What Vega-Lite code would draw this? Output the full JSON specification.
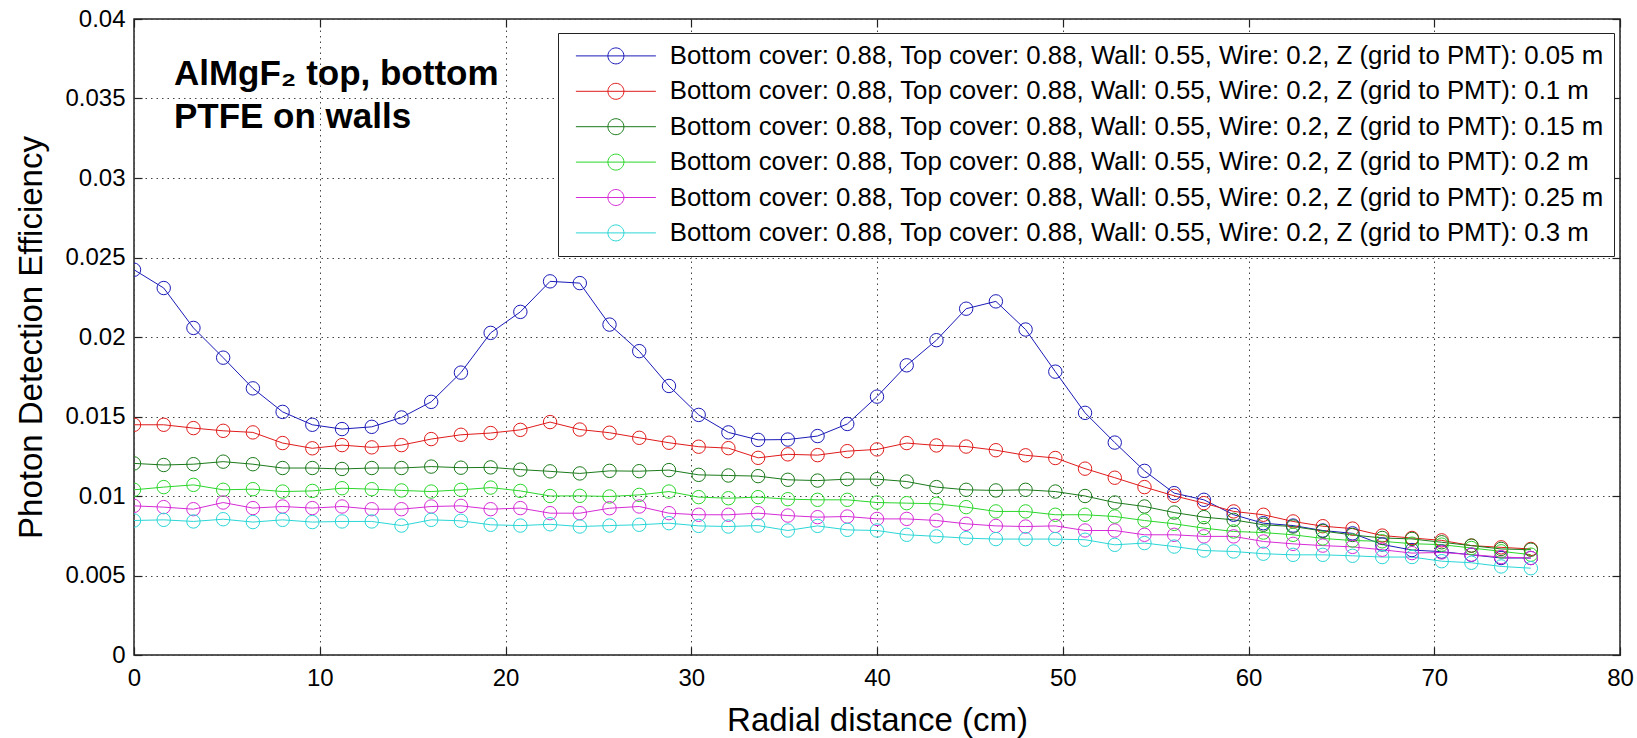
{
  "$schema": "https://vega.github.io/schema/vega-lite/v6.json",
  "width": 1486,
  "height": 636,
  "autosize": {"type": "none"},
  "padding": {"left": 134, "top": 19, "right": 17, "bottom": 83},
  "background": "white",
  "config": {
    "font": "Liberation Sans",
    "view": {"stroke": "#222222", "strokeWidth": 1.5},
    "axis": {"labelFont": "Liberation Sans", "titleFont": "Liberation Sans"},
    "legend": {"labelFont": "Liberation Sans"}
  },
  "datasets": {
    "pde": [
      {"z":"0.05","r":0,"p":0.02423},{"z":"0.05","r":1.6,"p":0.02308},{"z":"0.05","r":3.2,"p":0.02057},{"z":"0.05","r":4.8,"p":0.0187},{"z":"0.05","r":6.4,"p":0.01677},{"z":"0.05","r":8,"p":0.01529},{"z":"0.05","r":9.6,"p":0.01448},{"z":"0.05","r":11.2,"p":0.01421},{"z":"0.05","r":12.8,"p":0.01435},{"z":"0.05","r":14.4,"p":0.01494},
      {"z":"0.05","r":16,"p":0.01592},{"z":"0.05","r":17.6,"p":0.01776},{"z":"0.05","r":19.2,"p":0.02026},{"z":"0.05","r":20.8,"p":0.02158},{"z":"0.05","r":22.4,"p":0.0235},{"z":"0.05","r":24,"p":0.02339},{"z":"0.05","r":25.6,"p":0.02078},{"z":"0.05","r":27.2,"p":0.01911},{"z":"0.05","r":28.8,"p":0.01692},{"z":"0.05","r":30.4,"p":0.0151},
      {"z":"0.05","r":32,"p":0.014},{"z":"0.05","r":33.6,"p":0.01353},{"z":"0.05","r":35.2,"p":0.01355},{"z":"0.05","r":36.8,"p":0.01377},{"z":"0.05","r":38.4,"p":0.01453},{"z":"0.05","r":40,"p":0.01625},{"z":"0.05","r":41.6,"p":0.01822},{"z":"0.05","r":43.2,"p":0.0198},{"z":"0.05","r":44.8,"p":0.02178},{"z":"0.05","r":46.4,"p":0.02224},
      {"z":"0.05","r":48,"p":0.02047},{"z":"0.05","r":49.6,"p":0.01782},{"z":"0.05","r":51.2,"p":0.01523},{"z":"0.05","r":52.8,"p":0.01336},{"z":"0.05","r":54.4,"p":0.01158},{"z":"0.05","r":56,"p":0.01018},{"z":"0.05","r":57.6,"p":0.00976},{"z":"0.05","r":59.2,"p":0.00882},{"z":"0.05","r":60.8,"p":0.00829},{"z":"0.05","r":62.4,"p":0.00814},
      {"z":"0.05","r":64,"p":0.00783},{"z":"0.05","r":65.6,"p":0.00765},{"z":"0.05","r":67.2,"p":0.00695},{"z":"0.05","r":68.8,"p":0.0066},{"z":"0.05","r":70.4,"p":0.0065},{"z":"0.05","r":72,"p":0.0063},{"z":"0.05","r":73.6,"p":0.0061},{"z":"0.05","r":75.2,"p":0.0061},

      {"z":"0.1","r":0,"p":0.01448},{"z":"0.1","r":1.6,"p":0.01448},{"z":"0.1","r":3.2,"p":0.01427},{"z":"0.1","r":4.8,"p":0.0141},{"z":"0.1","r":6.4,"p":0.014},{"z":"0.1","r":8,"p":0.01333},{"z":"0.1","r":9.6,"p":0.013},{"z":"0.1","r":11.2,"p":0.0132},{"z":"0.1","r":12.8,"p":0.01306},{"z":"0.1","r":14.4,"p":0.0132},
      {"z":"0.1","r":16,"p":0.01358},{"z":"0.1","r":17.6,"p":0.01385},{"z":"0.1","r":19.2,"p":0.01396},{"z":"0.1","r":20.8,"p":0.01416},{"z":"0.1","r":22.4,"p":0.01465},{"z":"0.1","r":24,"p":0.01418},{"z":"0.1","r":25.6,"p":0.01398},{"z":"0.1","r":27.2,"p":0.01366},{"z":"0.1","r":28.8,"p":0.01335},{"z":"0.1","r":30.4,"p":0.0131},
      {"z":"0.1","r":32,"p":0.01301},{"z":"0.1","r":33.6,"p":0.0124},{"z":"0.1","r":35.2,"p":0.01262},{"z":"0.1","r":36.8,"p":0.01257},{"z":"0.1","r":38.4,"p":0.01282},{"z":"0.1","r":40,"p":0.01293},{"z":"0.1","r":41.6,"p":0.01333},{"z":"0.1","r":43.2,"p":0.01318},{"z":"0.1","r":44.8,"p":0.01311},{"z":"0.1","r":46.4,"p":0.01288},
      {"z":"0.1","r":48,"p":0.01256},{"z":"0.1","r":49.6,"p":0.01239},{"z":"0.1","r":51.2,"p":0.01172},{"z":"0.1","r":52.8,"p":0.01115},{"z":"0.1","r":54.4,"p":0.01056},{"z":"0.1","r":56,"p":0.01001},{"z":"0.1","r":57.6,"p":0.00955},{"z":"0.1","r":59.2,"p":0.00903},{"z":"0.1","r":60.8,"p":0.00882},{"z":"0.1","r":62.4,"p":0.0084},
      {"z":"0.1","r":64,"p":0.0081},{"z":"0.1","r":65.6,"p":0.00795},{"z":"0.1","r":67.2,"p":0.00751},{"z":"0.1","r":68.8,"p":0.00736},{"z":"0.1","r":70.4,"p":0.00721},{"z":"0.1","r":72,"p":0.00688},{"z":"0.1","r":73.6,"p":0.00677},{"z":"0.1","r":75.2,"p":0.00667},

      {"z":"0.15","r":0,"p":0.01205},{"z":"0.15","r":1.6,"p":0.01195},{"z":"0.15","r":3.2,"p":0.012},{"z":"0.15","r":4.8,"p":0.01216},{"z":"0.15","r":6.4,"p":0.012},{"z":"0.15","r":8,"p":0.01176},{"z":"0.15","r":9.6,"p":0.01176},{"z":"0.15","r":11.2,"p":0.0117},{"z":"0.15","r":12.8,"p":0.01176},{"z":"0.15","r":14.4,"p":0.01176},
      {"z":"0.15","r":16,"p":0.01185},{"z":"0.15","r":17.6,"p":0.01178},{"z":"0.15","r":19.2,"p":0.0118},{"z":"0.15","r":20.8,"p":0.01166},{"z":"0.15","r":22.4,"p":0.01155},{"z":"0.15","r":24,"p":0.01142},{"z":"0.15","r":25.6,"p":0.01158},{"z":"0.15","r":27.2,"p":0.01156},{"z":"0.15","r":28.8,"p":0.01163},{"z":"0.15","r":30.4,"p":0.01133},
      {"z":"0.15","r":32,"p":0.01129},{"z":"0.15","r":33.6,"p":0.01125},{"z":"0.15","r":35.2,"p":0.01102},{"z":"0.15","r":36.8,"p":0.01097},{"z":"0.15","r":38.4,"p":0.01106},{"z":"0.15","r":40,"p":0.01106},{"z":"0.15","r":41.6,"p":0.01091},{"z":"0.15","r":43.2,"p":0.01056},{"z":"0.15","r":44.8,"p":0.01039},{"z":"0.15","r":46.4,"p":0.01035},
      {"z":"0.15","r":48,"p":0.01039},{"z":"0.15","r":49.6,"p":0.01028},{"z":"0.15","r":51.2,"p":0.01},{"z":"0.15","r":52.8,"p":0.00959},{"z":"0.15","r":54.4,"p":0.00934},{"z":"0.15","r":56,"p":0.00896},{"z":"0.15","r":57.6,"p":0.00867},{"z":"0.15","r":59.2,"p":0.0085},{"z":"0.15","r":60.8,"p":0.00819},{"z":"0.15","r":62.4,"p":0.00808},
      {"z":"0.15","r":64,"p":0.0078},{"z":"0.15","r":65.6,"p":0.00755},{"z":"0.15","r":67.2,"p":0.00736},{"z":"0.15","r":68.8,"p":0.0073},{"z":"0.15","r":70.4,"p":0.00709},{"z":"0.15","r":72,"p":0.00688},{"z":"0.15","r":73.6,"p":0.00667},{"z":"0.15","r":75.2,"p":0.00662},

      {"z":"0.2","r":0,"p":0.01039},{"z":"0.2","r":1.6,"p":0.01056},{"z":"0.2","r":3.2,"p":0.0107},{"z":"0.2","r":4.8,"p":0.01039},{"z":"0.2","r":6.4,"p":0.01043},{"z":"0.2","r":8,"p":0.01028},{"z":"0.2","r":9.6,"p":0.01032},{"z":"0.2","r":11.2,"p":0.01049},{"z":"0.2","r":12.8,"p":0.01043},{"z":"0.2","r":14.4,"p":0.01035},
      {"z":"0.2","r":16,"p":0.01028},{"z":"0.2","r":17.6,"p":0.01039},{"z":"0.2","r":19.2,"p":0.01053},{"z":"0.2","r":20.8,"p":0.01032},{"z":"0.2","r":22.4,"p":0.01},{"z":"0.2","r":24,"p":0.01001},{"z":"0.2","r":25.6,"p":0.00997},{"z":"0.2","r":27.2,"p":0.01007},{"z":"0.2","r":28.8,"p":0.01028},{"z":"0.2","r":30.4,"p":0.00993},
      {"z":"0.2","r":32,"p":0.00986},{"z":"0.2","r":33.6,"p":0.00993},{"z":"0.2","r":35.2,"p":0.0098},{"z":"0.2","r":36.8,"p":0.00976},{"z":"0.2","r":38.4,"p":0.00976},{"z":"0.2","r":40,"p":0.00959},{"z":"0.2","r":41.6,"p":0.00955},{"z":"0.2","r":43.2,"p":0.00951},{"z":"0.2","r":44.8,"p":0.0093},{"z":"0.2","r":46.4,"p":0.00903},
      {"z":"0.2","r":48,"p":0.00903},{"z":"0.2","r":49.6,"p":0.00882},{"z":"0.2","r":51.2,"p":0.00882},{"z":"0.2","r":52.8,"p":0.00871},{"z":"0.2","r":54.4,"p":0.00846},{"z":"0.2","r":56,"p":0.00825},{"z":"0.2","r":57.6,"p":0.00798},{"z":"0.2","r":59.2,"p":0.00777},{"z":"0.2","r":60.8,"p":0.0077},{"z":"0.2","r":62.4,"p":0.00756},
      {"z":"0.2","r":64,"p":0.00733},{"z":"0.2","r":65.6,"p":0.0072},{"z":"0.2","r":67.2,"p":0.00715},{"z":"0.2","r":68.8,"p":0.007},{"z":"0.2","r":70.4,"p":0.00694},{"z":"0.2","r":72,"p":0.00673},{"z":"0.2","r":73.6,"p":0.00652},{"z":"0.2","r":75.2,"p":0.00631},

      {"z":"0.25","r":0,"p":0.00938},{"z":"0.25","r":1.6,"p":0.0093},{"z":"0.25","r":3.2,"p":0.00917},{"z":"0.25","r":4.8,"p":0.00959},{"z":"0.25","r":6.4,"p":0.00924},{"z":"0.25","r":8,"p":0.00934},{"z":"0.25","r":9.6,"p":0.00924},{"z":"0.25","r":11.2,"p":0.00934},{"z":"0.25","r":12.8,"p":0.00917},{"z":"0.25","r":14.4,"p":0.00917},
      {"z":"0.25","r":16,"p":0.00934},{"z":"0.25","r":17.6,"p":0.00938},{"z":"0.25","r":19.2,"p":0.00917},{"z":"0.25","r":20.8,"p":0.00924},{"z":"0.25","r":22.4,"p":0.00892},{"z":"0.25","r":24,"p":0.00892},{"z":"0.25","r":25.6,"p":0.00923},{"z":"0.25","r":27.2,"p":0.00934},{"z":"0.25","r":28.8,"p":0.00892},{"z":"0.25","r":30.4,"p":0.00882},
      {"z":"0.25","r":32,"p":0.00882},{"z":"0.25","r":33.6,"p":0.00892},{"z":"0.25","r":35.2,"p":0.00877},{"z":"0.25","r":36.8,"p":0.00867},{"z":"0.25","r":38.4,"p":0.00871},{"z":"0.25","r":40,"p":0.00856},{"z":"0.25","r":41.6,"p":0.00856},{"z":"0.25","r":43.2,"p":0.00846},{"z":"0.25","r":44.8,"p":0.00825},{"z":"0.25","r":46.4,"p":0.00812},
      {"z":"0.25","r":48,"p":0.00808},{"z":"0.25","r":49.6,"p":0.00812},{"z":"0.25","r":51.2,"p":0.00783},{"z":"0.25","r":52.8,"p":0.00783},{"z":"0.25","r":54.4,"p":0.00756},{"z":"0.25","r":56,"p":0.00756},{"z":"0.25","r":57.6,"p":0.00746},{"z":"0.25","r":59.2,"p":0.00746},{"z":"0.25","r":60.8,"p":0.00714},{"z":"0.25","r":62.4,"p":0.00699},
      {"z":"0.25","r":64,"p":0.00688},{"z":"0.25","r":65.6,"p":0.0068},{"z":"0.25","r":67.2,"p":0.00662},{"z":"0.25","r":68.8,"p":0.00641},{"z":"0.25","r":70.4,"p":0.00645},{"z":"0.25","r":72,"p":0.00631},{"z":"0.25","r":73.6,"p":0.00616},{"z":"0.25","r":75.2,"p":0.0061},

      {"z":"0.3","r":0,"p":0.00846},{"z":"0.3","r":1.6,"p":0.0085},{"z":"0.3","r":3.2,"p":0.0084},{"z":"0.3","r":4.8,"p":0.00854},{"z":"0.3","r":6.4,"p":0.00836},{"z":"0.3","r":8,"p":0.0085},{"z":"0.3","r":9.6,"p":0.00836},{"z":"0.3","r":11.2,"p":0.0084},{"z":"0.3","r":12.8,"p":0.0084},{"z":"0.3","r":14.4,"p":0.00814},
      {"z":"0.3","r":16,"p":0.0085},{"z":"0.3","r":17.6,"p":0.00844},{"z":"0.3","r":19.2,"p":0.00819},{"z":"0.3","r":20.8,"p":0.00814},{"z":"0.3","r":22.4,"p":0.00822},{"z":"0.3","r":24,"p":0.00808},{"z":"0.3","r":25.6,"p":0.00814},{"z":"0.3","r":27.2,"p":0.00819},{"z":"0.3","r":28.8,"p":0.00829},{"z":"0.3","r":30.4,"p":0.00812},
      {"z":"0.3","r":32,"p":0.00808},{"z":"0.3","r":33.6,"p":0.00814},{"z":"0.3","r":35.2,"p":0.00783},{"z":"0.3","r":36.8,"p":0.00812},{"z":"0.3","r":38.4,"p":0.00787},{"z":"0.3","r":40,"p":0.00783},{"z":"0.3","r":41.6,"p":0.00756},{"z":"0.3","r":43.2,"p":0.00746},{"z":"0.3","r":44.8,"p":0.00735},{"z":"0.3","r":46.4,"p":0.00729},
      {"z":"0.3","r":48,"p":0.00729},{"z":"0.3","r":49.6,"p":0.00729},{"z":"0.3","r":51.2,"p":0.00725},{"z":"0.3","r":52.8,"p":0.00693},{"z":"0.3","r":54.4,"p":0.00704},{"z":"0.3","r":56,"p":0.00682},{"z":"0.3","r":57.6,"p":0.00657},{"z":"0.3","r":59.2,"p":0.00651},{"z":"0.3","r":60.8,"p":0.00637},{"z":"0.3","r":62.4,"p":0.0063},
      {"z":"0.3","r":64,"p":0.0063},{"z":"0.3","r":65.6,"p":0.00624},{"z":"0.3","r":67.2,"p":0.00616},{"z":"0.3","r":68.8,"p":0.00616},{"z":"0.3","r":70.4,"p":0.0059},{"z":"0.3","r":72,"p":0.0058},{"z":"0.3","r":73.6,"p":0.00557},{"z":"0.3","r":75.2,"p":0.00546}
    ],
    "note": [
      {"r": 2.15, "p": 0.03585, "t": "AlMgF₂ top, bottom\nPTFE on walls"}
    ]
  },
  "resolve": {"axis": {"x": "independent", "y": "independent"}},
  "layer": [
    {
      "data": {"name": "pde"},
      "layer": [
        {
          "mark": {"type": "line", "strokeWidth": 1, "clip": true},
          "encoding": {
            "x": {
              "field": "r", "type": "quantitative",
              "scale": {"domain": [0, 80], "nice": false, "zero": false},
              "axis": {
                "orient": "bottom",
                "values": [0, 10, 20, 30, 40, 50, 60, 70, 80],
                "grid": true, "gridColor": "#444444", "gridDash": [1.5, 4], "gridWidth": 1,
                "domain": false,
                "ticks": true, "tickSize": -8, "tickColor": "#222222", "tickWidth": 1.2,
                "labelFontSize": 24, "labelColor": "black", "labelPadding": 19,
                "labelFlush": false, "labelOverlap": false,
                "title": "Radial distance (cm)", "titleFontSize": 33, "titleFontWeight": "normal",
                "titleColor": "black", "titlePadding": 14
              }
            },
            "y": {
              "field": "p", "type": "quantitative",
              "scale": {"domain": [0, 0.04], "nice": false, "zero": false},
              "axis": {
                "orient": "left",
                "values": [0, 0.005, 0.01, 0.015, 0.02, 0.025, 0.03, 0.035, 0.04],
                "format": ".3~f",
                "grid": true, "gridColor": "#444444", "gridDash": [1.5, 4], "gridWidth": 1,
                "domain": false,
                "ticks": true, "tickSize": -8, "tickColor": "#222222", "tickWidth": 1.2,
                "labelFontSize": 24, "labelColor": "black", "labelPadding": 17,
                "labelFlush": false, "labelOverlap": false,
                "title": "Photon Detection Efficiency", "titleFontSize": 33, "titleFontWeight": "normal",
                "titleColor": "black", "titlePadding": 16
              }
            },
            "color": {
              "field": "z", "type": "nominal",
              "scale": {
                "domain": ["0.05", "0.1", "0.15", "0.2", "0.25", "0.3"],
                "range": ["#1a1ab8", "#e01b1b", "#1b7a1b", "#2bd62b", "#d62bd6", "#2bd6d6"]
              },
              "legend": {
                "orient": "none", "legendX": 424, "legendY": 14,
                "title": null,
                "direction": "vertical",
                "padding": 10,
                "strokeColor": "#222222", "fillColor": "white",
                "symbolType": "M-0.5,0L7.5,0M2.7,0A0.8,0.8,0,1,1,4.3,0A0.8,0.8,0,1,1,2.7,0",
                "symbolSize": 400, "symbolStrokeWidth": 1,
                "labelFontSize": 25.8, "labelColor": "black", "labelOffset": 76,
                "labelLimit": 2000, "rowPadding": 8.4,
                "labelExpr": "'Bottom cover: 0.88, Top cover: 0.88, Wall: 0.55, Wire: 0.2, Z (grid to PMT): ' + datum.label + ' m'",
                "encode": {"symbols": {"update": {"fill": {"value": "transparent"}, "strokeWidth": {"value": 1}}}}
              }
            }
          }
        },
        {
          "mark": {"type": "point", "shape": "circle", "filled": false, "size": 180, "strokeWidth": 1, "opacity": 1, "clip": true},
          "encoding": {
            "x": {"field": "r", "type": "quantitative"},
            "y": {"field": "p", "type": "quantitative"},
            "color": {"field": "z", "type": "nominal"}
          }
        }
      ]
    },
    {
      "data": {"name": "note"},
      "mark": {
        "type": "text", "align": "left", "baseline": "alphabetic",
        "font": "Liberation Sans", "fontSize": 35, "fontWeight": "bold",
        "lineBreak": "\n", "lineHeight": 43, "color": "black"
      },
      "encoding": {
        "x": {
          "field": "r", "type": "quantitative",
          "axis": {
            "orient": "top", "values": [0, 10, 20, 30, 40, 50, 60, 70, 80],
            "labels": false, "title": null, "grid": false, "domain": false,
            "tickSize": -8, "tickColor": "#222222", "tickWidth": 1.2
          }
        },
        "y": {
          "field": "p", "type": "quantitative",
          "axis": {
            "orient": "right", "values": [0, 0.005, 0.01, 0.015, 0.02, 0.025, 0.03, 0.035, 0.04],
            "labels": false, "title": null, "grid": false, "domain": false,
            "tickSize": -8, "tickColor": "#222222", "tickWidth": 1.2
          }
        },
        "text": {"field": "t"}
      }
    }
  ]
}
